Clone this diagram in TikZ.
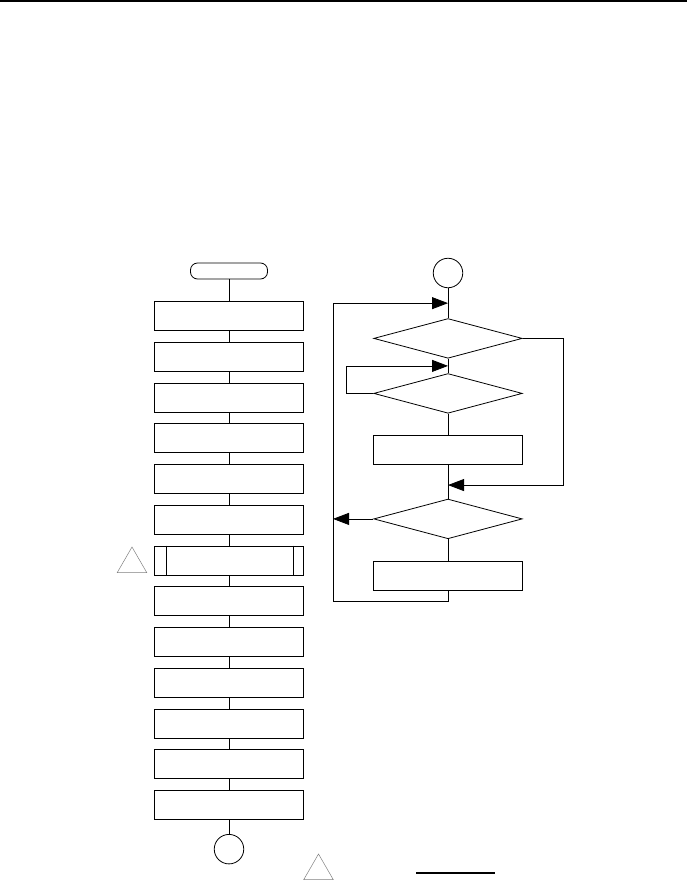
\documentclass[tikz,border=0pt]{standalone}
\usepackage{tikz}
\usetikzlibrary{arrows.meta,positioning,calc,shapes.geometric}

\begin{document}
\begin{tikzpicture}[
  x=1pt, y=-1pt,
  >={Triangle[length=16pt,width=12pt]},
  every node/.style={font=\scriptsize},
  line width=0.8pt,
  procbox/.style={draw, minimum width=148.5pt, minimum height=29.2pt, inner sep=0pt},
  termbox/.style={draw, rounded corners=7pt, minimum width=77pt, minimum height=16pt, inner sep=0pt},
  connector/.style={draw, circle, minimum size=29.5pt, inner sep=0pt},
  decision/.style={draw, diamond, minimum width=148.5pt, minimum height=39.7pt, inner sep=0pt},
  caution/.style={draw=gray, line width=0.5pt, regular polygon, regular polygon sides=3, minimum size=34pt, inner sep=0pt}
]
\useasboundingbox (0,0) rectangle (687,881);
\draw[line width=2pt] (0,1) -- (687,1);
% left column
\node[termbox] (start) at (229,271) {};
\node[procbox, below=21.6pt of start] (b1) {};
\node[procbox, below=10.75pt of b1] (b2) {};
\node[procbox, below=10.75pt of b2] (b3) {};
\node[procbox, below=10.75pt of b3] (b4) {};
\node[procbox, below=10.75pt of b4] (b5) {};
\node[procbox, below=10.75pt of b5] (b6) {};
\node[procbox, below=10.75pt of b6] (b7) {};
\node[procbox, below=10.75pt of b7] (b8) {};
\node[procbox, below=10.75pt of b8] (b9) {};
\node[procbox, below=10.75pt of b9] (b10) {};
\node[procbox, below=10.75pt of b10] (b11) {};
\node[procbox, below=10.75pt of b11] (b12) {};
\node[procbox, below=10.75pt of b12] (b13) {};
\node[connector, below=14pt of b13] (endc) {};
\draw ([xshift=12pt]b7.north west) -- ([xshift=12pt]b7.south west);
\draw ([xshift=-10pt]b7.north east) -- ([xshift=-10pt]b7.south east);
\foreach \a/\b in {start/b1,b1/b2,b2/b3,b3/b4,b4/b5,b5/b6,b6/b7,b7/b8,b8/b9,b9/b10,b10/b11,b11/b12,b12/b13,b13/endc}{\draw (\a.south) -- (\b.north);}
\node[caution] (warn1) at (132,564) {};
% right column
\node[connector] (top) at (448,273) {};
\node[decision, below=30pt of top] (d1) {};
\node[decision, below=14.5pt of d1] (d2) {};
\node[procbox, below=21pt of d2] (r1) {};
\node[decision, below=34pt of r1] (d3) {};
\node[procbox, below=21.5pt of d3] (r2) {};
\coordinate (m1) at ($(top.south)!0.5!(d1.north)$);
\coordinate (m2) at ($(d1.south)!0.5!(d2.north)$);
\coordinate (m3) at ($(r1.south)!0.6!(d3.north)$);
\coordinate (back) at (333,601);
\foreach \a/\b in {top/d1,d1/d2,d2/r1,r1/d3,d3/r2}{\draw (\a.south) -- (\b.north);}
\draw[->] (d1.east) -- ++(41,0) |- (m3);
\draw[->] (d2.west) -- ++(-27,0) |- (m2);
\draw[->] (r2.south) |- (back) |- (m1);
\draw[->] (d3.west) -- (back|-d3.west);
% bottom note
\node[caution] (warn2) at (318.5,871) {};
\draw[line width=2pt] (416,873) -- (495,873);
\end{tikzpicture}
\end{document}
